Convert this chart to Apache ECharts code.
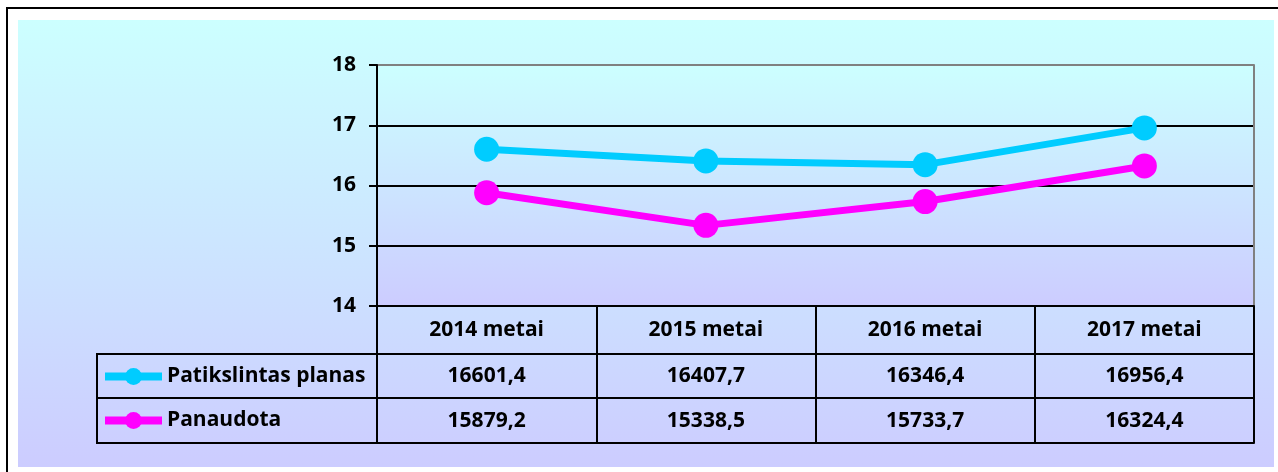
<!DOCTYPE html>
<html>
<head>
<meta charset="utf-8">
<script src="https://cdn.jsdelivr.net/npm/echarts@6/dist/echarts.min.js"></script>
<style>
  html, body { margin: 0; padding: 0; background: #fff; }
  #chart { width: 1278px; height: 472px; }
</style>
</head>
<body>
<div id="chart"></div>
<script>
const years = ["2014 metai", "2015 metai", "2016 metai", "2017 metai"];
const planas = [16601.4, 16407.7, 16346.4, 16956.4];
const panaudota = [15879.2, 15338.5, 15733.7, 16324.4];
const yTicks = [14, 15, 16, 17, 18];
const seriesNames = ["Patikslintas planas", "Panaudota"];

const FONT = "Open Sans";
const gridLeft = 377, gridTop = 65, gridRight = 24, gridBottom = 166;
const rowTops = [306, 354, 398, 443]; // table row lines (y)
const tableLeft = 97;

const chart = echarts.init(document.getElementById("chart"));

// formatting 16601.4 -> "16601,4"
const fmt = (v) => v.toFixed(1).replace(".", ",");

const labelFont = { color: "#000", fontFamily: FONT, fontWeight: "bold", fontSize: 21, lineHeight: 22 };

const option = {
  backgroundColor: "#fff",
  animation: false,
  grid: {
    left: gridLeft,
    top: gridTop,
    right: gridRight,
    bottom: gridBottom,
    show: true,
    borderWidth: 0,
    backgroundColor: new echarts.graphic.LinearGradient(0, 0, 0, 1, [
      { offset: 0, color: "#ccffff" },
      { offset: 1, color: "#ccccff" },
    ]),
  },
  legend: {
    orient: "vertical",
    left: 101,
    top: 366,
    padding: 0,
    itemWidth: 57,
    itemHeight: 21,
    itemGap: 23,
    lineStyle: { width: 8 },
    textStyle: { color: "#000", fontFamily: FONT, fontWeight: "bold", fontSize: 21 },
    data: seriesNames,
  },
  xAxis: [
    {
      // header row of the table
      type: "category",
      data: years,
      position: "bottom",
      axisLine: { show: true, lineStyle: { color: "#000", width: 2 } },
      axisTick: { show: true, interval: 0, length: rowTops[3] - rowTops[0], lineStyle: { color: "#000", width: 2 } },
      axisLabel: { ...labelFont, margin: 13, interval: 0 },
      splitLine: { show: false },
    },
    {
      type: "category",
      data: years,
      position: "bottom",
      offset: rowTops[1] - rowTops[0],
      axisLine: { show: true, lineStyle: { color: "#000", width: 2 } },
      axisTick: { show: false },
      axisLabel: { ...labelFont, margin: 11, interval: 0, formatter: (v, i) => fmt(planas[i]) },
    },
    {
      type: "category",
      data: years,
      position: "bottom",
      offset: rowTops[2] - rowTops[0],
      axisLine: { show: true, lineStyle: { color: "#000", width: 2 } },
      axisTick: { show: false },
      axisLabel: { ...labelFont, margin: 12, interval: 0, formatter: (v, i) => fmt(panaudota[i]) },
    },
    {
      type: "category",
      data: years,
      position: "bottom",
      offset: rowTops[3] - rowTops[0],
      axisLine: { show: true, lineStyle: { color: "#000", width: 2 } },
      axisTick: { show: false },
      axisLabel: { show: false },
    },
  ],
  yAxis: [
    {
      type: "value",
      min: yTicks[0],
      max: yTicks[yTicks.length - 1],
      interval: 1,
      axisLine: { show: true, lineStyle: { color: "#000", width: 2 } },
      axisTick: { show: true, length: 8, lineStyle: { color: "#000", width: 2 } },
      axisLabel: { ...labelFont, margin: 21 },
      splitLine: { show: true, lineStyle: { color: ["#000", "#000", "#000", "#000", "#808080"], width: 2 } },
    },
    {
      type: "value",
      position: "right",
      min: yTicks[0],
      max: yTicks[yTicks.length - 1],
      interval: 1,
      axisLine: { show: true, lineStyle: { color: "#808080", width: 2 } },
      axisTick: { show: false },
      axisLabel: { show: false },
      splitLine: { show: false },
    },
  ],
  series: [
    {
      name: seriesNames[0],
      type: "line",
      data: planas.map((v) => v / 1000),
      symbol: "circle",
      symbolSize: 25,
      color: "#00ccff",
      lineStyle: { color: "#00ccff", width: 7 },
      itemStyle: { color: "#00ccff" },
      z: 5,
    },
    {
      name: seriesNames[1],
      type: "line",
      data: panaudota.map((v) => v / 1000),
      symbol: "circle",
      symbolSize: 25,
      color: "#ff00ff",
      lineStyle: { color: "#ff00ff", width: 7 },
      itemStyle: { color: "#ff00ff" },
      z: 5,
    },
  ],
  graphic: [
    {
      type: "rect",
      z: -10,
      silent: true,
      shape: { x: 18, y: 20, width: 1256, height: 447 },
      style: {
        fill: new echarts.graphic.LinearGradient(0, 0, 0, 1, [
          { offset: 0, color: "#ccffff" },
          { offset: 1, color: "#ccccff" },
        ]),
      },
    },
    {
      type: "rect",
      z: -9,
      silent: true,
      shape: { x: 7, y: 8, width: 1300, height: 500 },
      style: { fill: null, stroke: "#000", lineWidth: 2 },
    },
    // legend column of the data table
    {
      type: "polyline",
      z: 10,
      silent: true,
      shape: { points: [[gridLeft, rowTops[1]], [tableLeft, rowTops[1]], [tableLeft, rowTops[3]], [gridLeft, rowTops[3]]] },
      style: { fill: null, stroke: "#000", lineWidth: 2 },
    },
    {
      type: "line",
      z: 10,
      silent: true,
      shape: { x1: tableLeft, y1: rowTops[2], x2: gridLeft, y2: rowTops[2] },
      style: { stroke: "#000", lineWidth: 2 },
    },
  ],
};

chart.setOption(option);
window.addEventListener("resize", () => chart.resize());
</script>
</body>
</html>
